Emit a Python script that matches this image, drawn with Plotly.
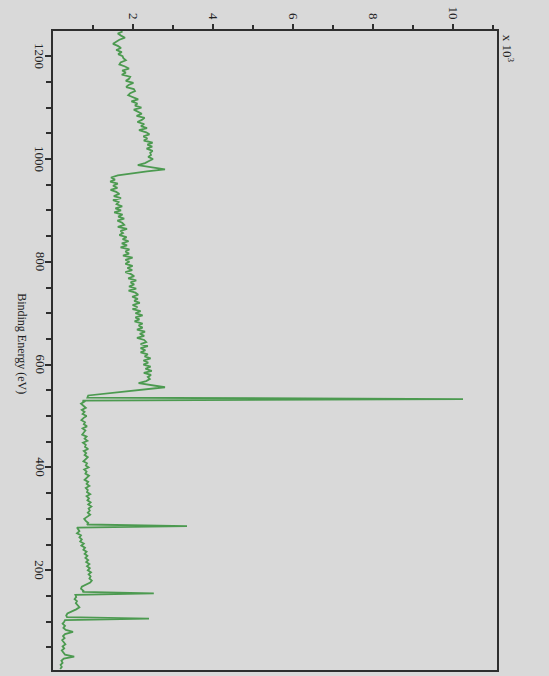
import plotly.graph_objects as go

# ---- data (counts in thousands, binding energy in eV) ----
be_top = list(range(1248, 1008, -4))
cts_top = [1.74, 1.62, 1.70, 1.80, 1.66, 1.56, 1.50, 1.62, 1.70, 1.58, 1.72, 1.63, 1.74,
           1.76, 1.82, 1.69, 1.66, 1.80, 1.90, 1.73, 1.82, 1.72, 1.93, 1.90, 1.82, 2.01,
           1.89, 1.83, 2.02, 2.05, 1.93, 1.88, 2.03, 2.13, 1.96, 2.11, 2.05, 2.21, 2.02,
           2.12, 2.22, 2.09, 2.29, 2.22, 2.11, 2.28, 2.20, 2.35, 2.15, 2.33, 2.41, 2.26,
           2.36, 2.27, 2.49, 2.36, 2.48, 2.34, 2.49, 2.43]

be_auger = [1008, 1004, 1000, 996, 992, 988, 984, 980, 976, 972, 968, 964]
cts_auger = [2.45, 2.38, 2.50, 2.40, 2.30, 2.12, 2.45, 2.80, 2.35, 1.95, 1.62, 1.45]

be_mid = list(range(960, 572, -4))
cts_mid = [1.55, 1.43, 1.62, 1.50, 1.61, 1.44, 1.58, 1.66, 1.52, 1.70, 1.50, 1.64, 1.59,
           1.73, 1.56, 1.70, 1.53, 1.74, 1.63, 1.78, 1.61, 1.73, 1.78, 1.62, 1.85, 1.69,
           1.75, 1.66, 1.84, 1.74, 1.89, 1.72, 1.85, 1.69, 1.91, 1.81, 1.90, 1.75, 1.99,
           1.81, 1.91, 1.81, 1.99, 1.86, 1.98, 1.81, 1.95, 2.03, 1.88, 2.08, 1.94, 2.03,
           1.90, 2.08, 1.89, 2.06, 2.13, 1.98, 2.12, 2.03, 2.17, 1.99, 2.11, 1.99, 2.19,
           2.06, 2.24, 2.06, 2.16, 2.04, 2.24, 2.14, 2.24, 2.10, 2.30, 2.17, 2.28, 2.10,
           2.28, 2.33, 2.19, 2.37, 2.19, 2.31, 2.19, 2.37, 2.29, 2.44, 2.26, 2.38, 2.26,
           2.44, 2.31, 2.47, 2.27, 2.45, 2.37]

be_o1s = [572, 568, 564, 560, 556, 540, 536, 533, 530]
cts_o1s = [2.42, 2.33, 2.14, 2.48, 2.80, 0.88, 0.86, 10.25, 0.74]

be_low = list(range(528, 288, -4))
cts_low = [0.78, 0.70, 0.76, 0.82, 0.72, 0.79, 0.74, 0.84, 0.76, 0.71, 0.80, 0.77, 0.85,
           0.74, 0.81, 0.78, 0.73, 0.84, 0.79, 0.86, 0.75, 0.82, 0.80, 0.88, 0.77, 0.83,
           0.79, 0.87, 0.81, 0.76, 0.85, 0.82, 0.89, 0.78, 0.84, 0.81, 0.90, 0.83, 0.79,
           0.88, 0.84, 0.91, 0.82, 0.87, 0.85, 0.93, 0.84, 0.90, 0.86, 0.94, 0.88, 0.96,
           0.89, 0.92, 0.87, 0.93, 0.84, 0.78, 0.82, 0.88]

be_c1s = [289, 286, 283]
cts_c1s = [0.85, 3.35, 0.60]

be_si = list(range(280, 156, -4))
cts_si = [0.62, 0.66, 0.60, 0.70, 0.66, 0.72, 0.68, 0.77, 0.71, 0.80, 0.76, 0.84, 0.79,
          0.86, 0.81, 0.88, 0.83, 0.91, 0.85, 0.92, 0.87, 0.95, 0.89, 0.94, 0.91, 0.97,
          0.93, 0.84, 0.72, 0.70, 0.76]

be_peaks2 = [158, 155, 152, 148, 144, 140, 136, 132, 128, 124, 120, 116, 112, 109, 106, 103]
cts_peaks2 = [0.74, 2.52, 0.56, 0.58, 0.54, 0.60, 0.57, 0.62, 0.66, 0.58, 0.48, 0.36,
              0.33, 0.35, 2.40, 0.30]

be_end = list(range(100, 4, -4))
cts_end = [0.28, 0.24, 0.30, 0.26, 0.32, 0.50, 0.30, 0.25, 0.29, 0.23, 0.27, 0.31, 0.24,
           0.28, 0.22, 0.26, 0.30, 0.53, 0.27, 0.21, 0.24, 0.19, 0.22, 0.18]

x_ticks = [2, 4, 6, 8, 10]
x_ticktext = ["2", "4", "6", "8", "10"]
x_minor = [1, 3, 5, 7, 9, 11]
y_ticks = [200, 400, 600, 800, 1000, 1200]
y_ticktext = ["200", "400", "600", "800", "1000", "1200"]
y_minor = [50, 100, 150, 250, 300, 350, 450, 500, 550, 650, 700, 750,
           850, 900, 950, 1050, 1100, 1150]

binding = be_top + be_auger + be_mid + be_o1s + be_low + be_c1s + be_si + be_peaks2 + be_end
counts = cts_top + cts_auger + cts_mid + cts_o1s + cts_low + cts_c1s + cts_si + cts_peaks2 + cts_end

BG = "#d9d9d9"
AX = "#2e2e2e"
FONT = "Liberation Serif"

fig = go.Figure()
fig.add_trace(go.Scatter(
    x=counts, y=binding, mode="lines",
    line=dict(color="#4c9a50", width=1.8),
    hoverinfo="skip", showlegend=False,
))

# rotated y tick labels as text placed at the axis' own tick values
ytick_annots = [
    dict(text=t, xref="paper", yref="y", x=-0.029, y=v,
         xanchor="center", yanchor="middle", textangle=90, showarrow=False,
         font=dict(family=FONT, size=13, color="#222"))
    for v, t in zip(y_ticks, y_ticktext)
]

fig.update_layout(
    width=549, height=676,
    margin=dict(l=53, r=52, t=31, b=6),
    paper_bgcolor=BG, plot_bgcolor=BG,
    font=dict(family=FONT, size=13, color="#222"),
    xaxis=dict(
        side="top", range=[0, 11.1], automargin=False,
        tickvals=x_ticks, ticktext=x_ticktext, tickangle=90,
        ticks="outside", ticklen=5, tickwidth=1.5, tickcolor=AX,
        minor=dict(tickvals=x_minor, ticks="outside", ticklen=4,
                   tickwidth=1.5, tickcolor=AX, showgrid=False),
        showline=True, linecolor=AX, linewidth=2, mirror=True,
        showgrid=False, zeroline=False,
    ),
    yaxis=dict(
        range=[6, 1249], automargin=False,
        tickvals=y_ticks, showticklabels=False,
        ticks="outside", ticklen=6, tickwidth=1.5, tickcolor=AX,
        minor=dict(tickvals=y_minor, ticks="outside", ticklen=5,
                   tickwidth=1.5, tickcolor=AX, showgrid=False),
        showline=True, linecolor=AX, linewidth=2, mirror=True,
        showgrid=False, zeroline=False,
    ),
    annotations=ytick_annots + [
        dict(text="Binding Energy (eV)", xref="paper", yref="paper",
             x=-0.07, y=0.51, xanchor="center", yanchor="middle",
             textangle=90, showarrow=False,
             font=dict(family=FONT, size=12, color="#222")),
        dict(text="x 10<sup>3</sup>", xref="paper", yref="paper",
             x=1.025, y=0.972, xanchor="center", yanchor="middle",
             textangle=90, showarrow=False,
             font=dict(family=FONT, size=13, color="#222")),
    ],
)

fig.write_html(
    "out.html",
    config={"displayModeBar": False},
    post_script="document.body.style.margin='0';document.body.style.background='#d9d9d9';",
)
